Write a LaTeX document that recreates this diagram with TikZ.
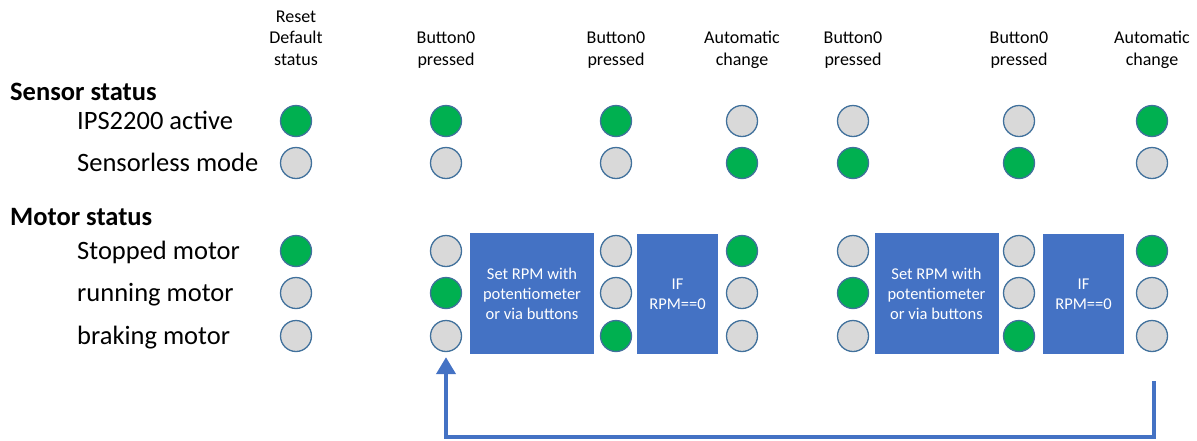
\documentclass[tikz,border=0pt]{standalone}
\usepackage{fontspec}
\setmainfont{Carlito}
\usetikzlibrary{arrows.meta}
\definecolor{ogreen}{HTML}{00B050}
\definecolor{ogray}{HTML}{D9D9D9}
\definecolor{oblue}{HTML}{4472C4}
\definecolor{oline}{HTML}{41719C}
\begin{document}
\begin{tikzpicture}[x=1pt,y=-1pt,
  lamp/.style={circle,draw=oline,line width=1.3pt,minimum size=31pt,inner sep=0pt},
  on/.style={lamp,fill=ogreen},
  off/.style={lamp,fill=ogray},
  rowlbl/.style={anchor=base west,font=\fontsize{26.5}{30}\selectfont,inner sep=0pt},
  grp/.style={anchor=base west,font=\bfseries\fontsize{26.5}{30}\selectfont,inner sep=0pt},
  hdr/.style={anchor=base,align=center,font=\fontsize{18}{21.5}\selectfont,inner sep=0pt},
  blk/.style={fill=oblue,text=white,align=center,inner sep=0pt,font=\fontsize{16.5}{20}\selectfont},
  loop/.style={draw=oblue,line width=4pt,-{Triangle[width=19pt,length=17pt]}}]
\useasboundingbox (0,0) rectangle (1197,440);

% headers (anchor = baseline of last line)
\node[hdr] (h1) at (296,65) {Reset\\Default\\status};
\node[hdr] (h2) at (446,65) {Button0\\pressed};
\node[hdr] (h3) at (616,65) {Button0\\pressed};
\node[hdr] (h4) at (742,65) {Automatic\\change};
\node[hdr] (h5) at (853,65) {Button0\\pressed};
\node[hdr] (h6) at (1019,65) {Button0\\pressed};
\node[hdr] (h7) at (1152,65) {Automatic\\change};

% row labels
\node[grp] (gs) at (10,100) {Sensor status};
\node[rowlbl] (ls1) at (77,129) {IPS2200 active};
\node[rowlbl] (ls2) at (77,171) {Sensorless mode};
\node[grp] (gm) at (10,225) {Motor status};
\node[rowlbl] (lm1) at (77,259) {Stopped motor};
\node[rowlbl] (lm2) at (77,301) {running motor};
\node[rowlbl] (lm3) at (77,344) {braking motor};

% sensor lamps
\foreach \n/\x/\a/\b in {1/296/on/off,2/446/on/off,3/616/on/off,4/742/off/on,5/853/off/on,6/1019/off/on,7/1152/on/off}{
  \node[\a] (c\n s1) at (\x,121) {};
  \node[\b] (c\n s2) at (\x,163) {};
}
% motor lamps
\foreach \n/\x/\a/\b/\c in {1/296/on/off/off,2/446/off/on/off,3/616/off/off/on,4/742/on/off/off,5/853/off/on/off,6/1019/off/off/on,7/1152/on/off/off}{
  \node[\a] (c\n m1) at (\x,251) {};
  \node[\b] (c\n m2) at (\x,293) {};
  \node[\c] (c\n m3) at (\x,336) {};
}

% blocks
\node[blk,minimum width=124pt,minimum height=121pt] (b1) at (532,293.5) {Set RPM with\\potentiometer\\or via buttons};
\node[blk,minimum width=81pt,minimum height=120pt] (b2) at (677.5,294) {IF\\RPM==0};
\node[blk,minimum width=124pt,minimum height=121pt] (b3) at (936.5,293.5) {Set RPM with\\potentiometer\\or via buttons};
\node[blk,minimum width=81pt,minimum height=120pt] (b4) at (1083.5,294) {IF\\RPM==0};

% loop back arrow
\coordinate (ls) at (1154,381);
\draw[loop,shorten >=5pt] (ls) -- ++(0,56) -| (c2m3.south);
\end{tikzpicture}
\end{document}
